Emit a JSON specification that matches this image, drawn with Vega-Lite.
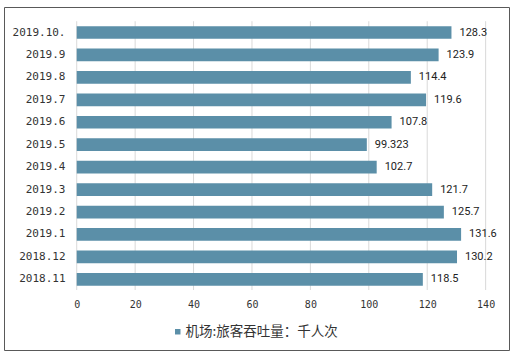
{
  "$schema": "https://vega.github.io/schema/vega-lite/v6.json",
  "width": 505,
  "height": 343,
  "autosize": {"type": "none"},
  "padding": {"left": 4, "top": 7, "right": 4, "bottom": 7},
  "background": "#ffffff",
  "config": {
    "view": {"stroke": "#595959", "strokeWidth": 1},
    "axis": {"domain": false, "ticks": false, "grid": false, "title": null}
  },
  "datasets": {
    "bars": [
      {"cat": "2019.10.", "value": 128.3, "series": "机场:旅客吞吐量：千人次"},
      {"cat": "2019.9", "value": 123.9, "series": "机场:旅客吞吐量：千人次"},
      {"cat": "2019.8", "value": 114.4, "series": "机场:旅客吞吐量：千人次"},
      {"cat": "2019.7", "value": 119.6, "series": "机场:旅客吞吐量：千人次"},
      {"cat": "2019.6", "value": 107.8, "series": "机场:旅客吞吐量：千人次"},
      {"cat": "2019.5", "value": 99.323, "series": "机场:旅客吞吐量：千人次"},
      {"cat": "2019.4", "value": 102.7, "series": "机场:旅客吞吐量：千人次"},
      {"cat": "2019.3", "value": 121.7, "series": "机场:旅客吞吐量：千人次"},
      {"cat": "2019.2", "value": 125.7, "series": "机场:旅客吞吐量：千人次"},
      {"cat": "2019.1", "value": 131.6, "series": "机场:旅客吞吐量：千人次"},
      {"cat": "2018.12", "value": 130.2, "series": "机场:旅客吞吐量：千人次"},
      {"cat": "2018.11", "value": 118.5, "series": "机场:旅客吞吐量：千人次"}
    ],
    "grid": [{"g": 0}, {"g": 20}, {"g": 40}, {"g": 60}, {"g": 80}, {"g": 100}, {"g": 120}, {"g": 140}]
  },
  "layer": [
    {
      "data": {"name": "grid"},
      "mark": {"type": "rule", "color": "#d9d9d9", "strokeWidth": 1},
      "encoding": {
        "x": {
          "field": "g",
          "type": "quantitative",
          "scale": {"domain": [-24.9, 148], "nice": false, "zero": false},
          "axis": {
            "values": [0, 20, 40, 60, 80, 100, 120, 140],
            "offset": -60,
            "labelPadding": 9,
            "labelFont": "DejaVu Sans Mono",
            "labelFontSize": 10,
            "labelColor": "#333333"
          }
        },
        "y": {
          "datum": "2019.10.",
          "type": "nominal",
          "bandPosition": -0.39,
          "scale": {
            "domain": ["2019.10.", "2019.9", "2019.8", "2019.7", "2019.6", "2019.5", "2019.4", "2019.3", "2019.2", "2019.1", "2018.12", "2018.11"],
            "range": [19.16, 278.7],
            "paddingInner": 0.434,
            "paddingOuter": 0
          },
          "axis": {
            "offset": -62,
            "labelPadding": 1,
            "labelFont": "DejaVu Sans Mono",
            "labelFontSize": 11,
            "labelColor": "#333333"
          }
        },
        "y2": {"datum": "2018.11", "bandPosition": 1.34}
      }
    },
    {
      "data": {"name": "bars"},
      "mark": {"type": "bar"},
      "encoding": {
        "x": {"field": "value", "type": "quantitative"},
        "x2": {"datum": 0},
        "y": {"field": "cat", "type": "nominal"},
        "color": {
          "field": "series",
          "type": "nominal",
          "scale": {"range": ["#5b8fa8"]},
          "legend": {
            "orient": "none",
            "legendX": 167,
            "legendY": 318,
            "title": null,
            "symbolType": "square",
            "symbolSize": 30,
            "symbolStrokeWidth": 0,
            "labelFont": "Noto Sans CJK SC",
            "labelFontSize": 13.5,
            "labelColor": "#333333",
            "labelOffset": 1
          }
        }
      }
    },
    {
      "data": {"name": "bars"},
      "mark": {"type": "text", "align": "left", "baseline": "middle", "dx": 8, "font": "Roboto", "fontSize": 11, "color": "#222222"},
      "encoding": {
        "x": {"field": "value", "type": "quantitative"},
        "y": {"field": "cat", "type": "nominal"},
        "text": {"field": "value", "type": "quantitative"}
      }
    }
  ]
}
